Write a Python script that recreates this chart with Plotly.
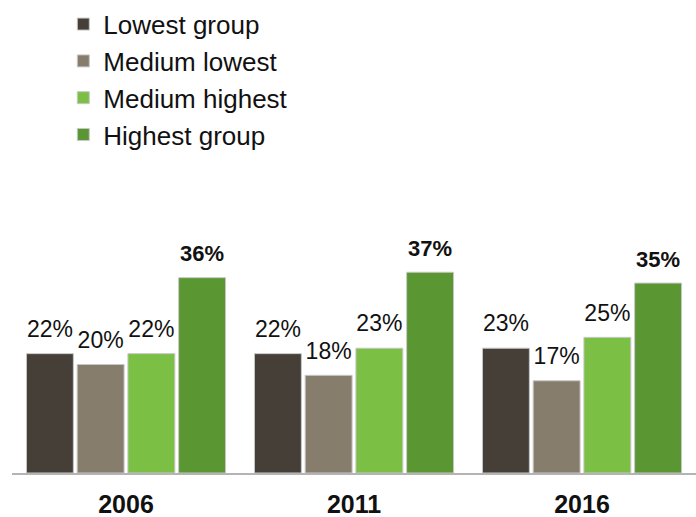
import plotly.graph_objects as go

# Share of each income group, by census year
years = ["2006", "2011", "2016"]
groups = ["Lowest group", "Medium lowest", "Medium highest", "Highest group"]
lowest = [22, 22, 23]
medium_lowest = [20, 18, 17]
medium_highest = [22, 23, 25]
highest = [36, 37, 35]

series = [lowest, medium_lowest, medium_highest, highest]
colors = ["#463f38", "#877d6d", "#7bbf44", "#5a9632"]
FONT = "Liberation Sans, Arial, sans-serif"
GAP = 0.11

fig = go.Figure()
for i, (name, vals, col) in enumerate(zip(groups, series, colors)):
    fig.add_trace(go.Bar(
        name=name,
        x=years,
        y=vals,
        offsetgroup=str(i),
        marker=dict(color=col, line=dict(color="#c8c8c8", width=1)),
    ))

# Value labels floating above each bar
for i, (name, vals) in enumerate(zip(groups, series)):
    bold = name == "Highest group"
    fig.add_trace(go.Scatter(
        x=years,
        y=vals,
        offsetgroup=str(i),
        mode="markers+text",
        marker=dict(size=16, opacity=0),
        text=[f"<b>{v}%</b>" if bold else f"{v}%" for v in vals],
        textposition="top center",
        textfont=dict(family=FONT, size=22 if bold else 23, color="#111111"),
        showlegend=False,
        hoverinfo="skip",
        cliponaxis=False,
    ))

fig.update_layout(
    width=696,
    height=517,
    barmode="group",
    scattermode="group",
    bargap=GAP,
    scattergap=GAP,
    bargroupgap=0.075,
    plot_bgcolor="white",
    paper_bgcolor="white",
    margin=dict(l=12, r=0, t=180, b=44),
    font=dict(family=FONT, color="#111111"),
    legend=dict(
        xref="paper", yref="paper",
        x=0.075, y=1.612, xanchor="left", yanchor="top",
        font=dict(size=26, color="#111111"),
        itemwidth=30,
        bgcolor="rgba(0,0,0,0)",
    ),
    xaxis=dict(
        showline=True, linecolor="#b4b4b4", linewidth=2,
        ticks="", showgrid=False, ticklabelstandoff=8,
        tickfont=dict(size=25, color="#111111", family=FONT, weight="bold"),
    ),
    yaxis=dict(range=[0, 54], visible=False, showgrid=False, zeroline=False),
)

fig.write_html("out.html")
